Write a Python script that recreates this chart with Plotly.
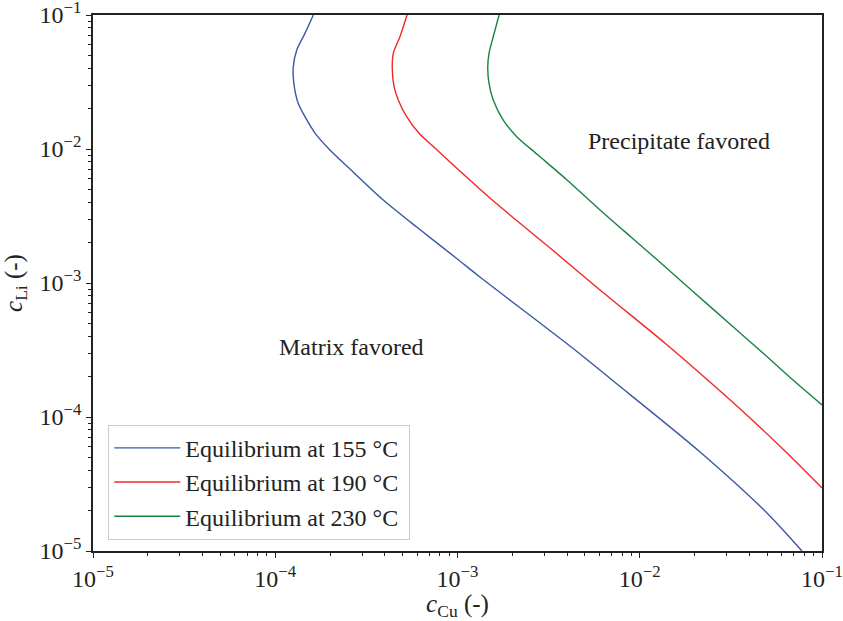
import plotly.graph_objects as go

# Equilibrium curves: log10(c_Cu), log10(c_Li)
log_cu_155 = [-3.791, -3.837, -3.882, -3.901, -3.898, -3.874, -3.837, -3.782, -3.700, -3.584,
              -3.414, -3.217, -3.008, -2.877, -2.355, -2.152, -1.669, -1.302, -1.110]
log_li_155 = [-1.000, -1.137, -1.261, -1.386, -1.510, -1.659, -1.759, -1.881, -2.007, -2.157,
              -2.373, -2.590, -2.813, -2.955, -3.500, -3.724, -4.261, -4.716, -5.000]

log_cu_190 = [-3.277, -3.316, -3.352, -3.358, -3.348, -3.325, -3.279, -3.211, -3.112, -2.981,
              -2.822, -2.652, -2.492, -2.218, -1.856, -1.615, -1.395, -1.192, -1.000]
log_li_190 = [-1.000, -1.162, -1.284, -1.396, -1.535, -1.634, -1.759, -1.883, -2.007, -2.172,
              -2.366, -2.560, -2.739, -3.052, -3.455, -3.739, -4.007, -4.269, -4.530]

log_cu_230 = [-2.772, -2.804, -2.827, -2.834, -2.827, -2.804, -2.749, -2.675, -2.558, -2.399,
              -2.218, -2.048, -1.878, -1.686, -1.499, -1.318, -1.159, -1.000]
log_li_230 = [-1.000, -1.162, -1.286, -1.386, -1.510, -1.634, -1.784, -1.908, -2.045, -2.231,
              -2.455, -2.657, -2.858, -3.090, -3.313, -3.530, -3.724, -3.910]

series_names = ["Equilibrium at 155 °C", "Equilibrium at 190 °C", "Equilibrium at 230 °C"]
series_colors = ["#3a57a8", "#f02828", "#16843f"]

x_decades = [1e-5, 1e-4, 1e-3, 1e-2, 1e-1]
y_decades = [1e-5, 1e-4, 1e-3, 1e-2, 1e-1]
tick_text = ["10<sup>−5</sup>", "10<sup>−4</sup>", "10<sup>−3</sup>", "10<sup>−2</sup>", "10<sup>−1</sup>"]

annotations_text = ["Precipitate favored", "Matrix favored"]
annotations_log_pos = [(-1.785, -1.940), (-3.579, -3.478)]

minor_vals = [m * d for d in x_decades[:-1] for m in range(2, 10)]

FONT = "Liberation Serif, Times New Roman, serif"
INK = "#222222"

fig = go.Figure()
for i, (lcu, lli, name, col) in enumerate(zip([log_cu_155, log_cu_190, log_cu_230],
                                              [log_li_155, log_li_190, log_li_230],
                                              series_names, series_colors)):
    fig.add_trace(go.Scatter(x=[10 ** v for v in lcu], y=[10 ** v for v in lli], mode="lines",
                             name=name + "&nbsp;", legendgroup=f"g{i}",
                             line=dict(color=col, width=1.4, shape="spline", smoothing=0.8)))

# annotations on log axes take log10 positions
for txt, (ax, ay) in zip(annotations_text, annotations_log_pos):
    fig.add_annotation(x=ax, y=ay, xref="x", yref="y", text=txt,
                       showarrow=False, font=dict(family=FONT, size=24, color=INK))

axis_common = dict(
    type="log", showgrid=False, zeroline=False, automargin=False,
    ticklabeloverflow="allow",
    showline=True, linecolor=INK, linewidth=1.6, mirror=True,
    ticks="outside", ticklen=5, tickwidth=1.2, tickcolor=INK,
    tickfont=dict(family=FONT, size=24, color=INK),
    minor=dict(tickvals=minor_vals, ticks="outside", ticklen=3, tickwidth=0.8,
               tickcolor=INK, showgrid=False),
)

fig.update_xaxes(range=[-5, -1], tickvals=x_decades, ticktext=tick_text,
                 title=dict(text="<i>c</i><sub>Cu</sub> (-)", font=dict(family=FONT, size=25, color=INK)),
                 **axis_common)
fig.update_yaxes(range=[-5, -1], tickvals=y_decades, ticktext=tick_text,
                 title=dict(text="<i>c</i><sub>Li</sub> (-)", font=dict(family=FONT, size=25, color=INK)),
                 **axis_common)

fig.update_layout(
    width=843, height=621,
    margin=dict(l=93, r=21, t=15, b=70),
    paper_bgcolor="white", plot_bgcolor="white",
    font=dict(family=FONT, color=INK),
    showlegend=True,
    legend=dict(x=0.021, y=0.021, xanchor="left", yanchor="bottom",
                bgcolor="rgba(255,255,255,0.85)", bordercolor="#cccccc", borderwidth=1,
                font=dict(family=FONT, size=24, color=INK),
                itemwidth=66, tracegroupgap=0),
)

fig.write_html("out.html", config={"displayModeBar": False},
               post_script="document.body.style.margin='0';document.body.style.overflow='hidden';")
